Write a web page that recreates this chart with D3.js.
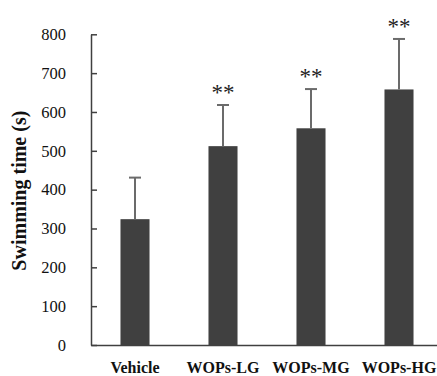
<!DOCTYPE html>
<html>
<head>
<meta charset="utf-8">
<script src="https://cdn.jsdelivr.net/npm/d3@7"></script>
<style>
  body { margin: 0; background: #fff; }
</style>
</head>
<body>
<div id="chart"></div>
<script>
var groups = ["Vehicle", "WOPs-LG", "WOPs-MG", "WOPs-HG"];
var means = [324, 512, 558, 658];
var sds = [107, 106, 101, 130];
var marks = ["", "**", "**", "**"];
var yTicks = [0, 100, 200, 300, 400, 500, 600, 700, 800];

var W = 437, H = 376;
var margin = {top: 34.3, left: 91, bottom: 31, right: -6};
var serif = "'Liberation Serif', 'Times New Roman', serif";

var svg = d3.select("#chart")
    .append("svg")
    .attr("width", W)
    .attr("height", H);

var x = d3.scaleBand()
    .domain(groups)
    .range([margin.left, W - margin.right])
    .paddingInner(0.67)
    .paddingOuter(0.335);

var y = d3.scaleLinear()
    .domain([0, 800])
    .range([H - margin.bottom, margin.top]);

var data = groups.map(function(g, i) {
  return {group: g, mean: means[i], sd: sds[i], mark: marks[i]};
});

// bars
svg.selectAll(".bar")
    .data(data)
  .enter().append("rect")
    .attr("class", "bar")
    .attr("x", function(d) { return x(d.group); })
    .attr("y", function(d) { return y(d.mean); })
    .attr("width", x.bandwidth())
    .attr("height", function(d) { return y(0) - y(d.mean); })
    .attr("fill", "#404040");

// error bars
var eb = svg.selectAll(".err")
    .data(data)
  .enter().append("g")
    .attr("class", "err")
    .attr("stroke", "#6b6b6b")
    .attr("stroke-width", 2);

eb.append("line")
    .attr("x1", function(d) { return x(d.group) + x.bandwidth() / 2; })
    .attr("x2", function(d) { return x(d.group) + x.bandwidth() / 2; })
    .attr("y1", function(d) { return y(d.mean); })
    .attr("y2", function(d) { return y(d.mean + d.sd); });

eb.append("line")
    .attr("x1", function(d) { return x(d.group) + x.bandwidth() / 2 - 6; })
    .attr("x2", function(d) { return x(d.group) + x.bandwidth() / 2 + 6; })
    .attr("y1", function(d) { return y(d.mean + d.sd); })
    .attr("y2", function(d) { return y(d.mean + d.sd); });

// significance stars
svg.selectAll(".star")
    .data(data)
  .enter().append("text")
    .attr("class", "star")
    .attr("x", function(d) { return x(d.group) + x.bandwidth() / 2; })
    .attr("y", function(d) { return y(d.mean + d.sd) - 5; })
    .attr("text-anchor", "middle")
    .style("font-family", serif)
    .style("font-size", "23px")
    .style("fill", "#222")
    .text(function(d) { return d.mark; });

// y axis
var yAxis = svg.append("g")
    .attr("transform", "translate(" + margin.left + ",0)")
    .call(d3.axisRight(y).tickValues(yTicks).tickSize(6).tickSizeOuter(0).tickFormat(d3.format("d")));
yAxis.select(".domain").attr("stroke", "#404040").attr("stroke-width", 1.5);
yAxis.selectAll(".tick line").attr("stroke", "#404040").attr("stroke-width", 1.5);
yAxis.selectAll(".tick text")
    .attr("x", -25)
    .attr("text-anchor", "end")
    .style("font-family", serif)
    .style("font-size", "16.5px")
    .style("fill", "#111");

// x axis
var xAxis = svg.append("g")
    .attr("transform", "translate(0," + y(0) + ")")
    .call(d3.axisBottom(x).tickSize(0).tickSizeOuter(0));
xAxis.select(".domain").attr("stroke", "#404040").attr("stroke-width", 1.5);
xAxis.selectAll(".tick text")
    .attr("y", 17)
    .style("font-family", serif)
    .style("font-size", "16px")
    .style("font-weight", "bold")
    .style("fill", "#111");

// y title
svg.append("text")
    .attr("transform", "translate(26," + (margin.top + (y(0) - margin.top) / 2 + 1) + ") rotate(-90)")
    .attr("text-anchor", "middle")
    .style("font-family", serif)
    .style("font-size", "20px")
    .style("font-weight", "bold")
    .style("fill", "#111")
    .text("Swimming time (s)");
</script>
</body>
</html>
